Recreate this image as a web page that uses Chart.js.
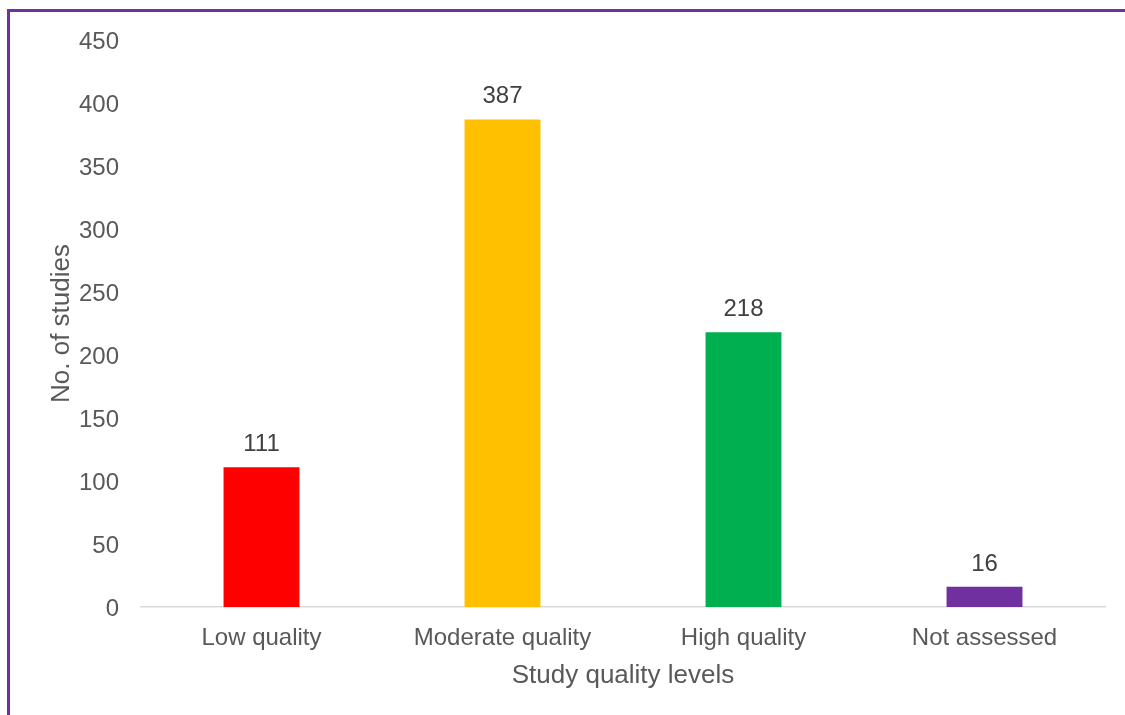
<!DOCTYPE html>
<html>
<head>
<meta charset="utf-8">
<script src="https://cdn.jsdelivr.net/npm/chart.js@4/dist/chart.umd.min.js"></script>
<style>
  html, body { margin: 0; padding: 0; background: #fff; overflow: hidden; }
  #wrap { position: relative; width: 1125px; height: 715px; }
  #frame {
    position: absolute; left: 7px; top: 9px; width: 1300px; height: 900px;
    border-left: 3px solid #7030a0; border-top: 3px solid #7030a0;
    pointer-events: none;
  }
  canvas { position: absolute; left: 0; top: 0; }
</style>
</head>
<body>
<div id="wrap">
  <canvas id="qualityChart" width="1125" height="715"></canvas>
  <div id="frame"></div>
</div>
<script>
const categories = ["Low quality", "Moderate quality", "High quality", "Not assessed"];
const studyCounts = [111, 387, 218, 16];
const barColors = ["#ff0000", "#ffc000", "#00b050", "#7030a0"];
const yTicks = [0, 50, 100, 150, 200, 250, 300, 350, 400, 450];

const font = "'Liberation Sans', Arial, sans-serif";

// write the count above each bar
const valueLabels = {
  id: "valueLabels",
  afterDatasetsDraw(chart) {
    const ctx = chart.ctx;
    const meta = chart.getDatasetMeta(0);
    ctx.save();
    ctx.font = `24px ${font}`;
    ctx.fillStyle = "#404040";
    ctx.textAlign = "center";
    ctx.textBaseline = "alphabetic";
    meta.data.forEach((bar, i) => {
      ctx.fillText(String(studyCounts[i]), bar.x, bar.y - 16);
    });
    ctx.restore();
  },
};

new Chart(document.querySelector("#qualityChart"), {
  type: "bar",
  data: {
    labels: categories,
    datasets: [{
      data: studyCounts,
      backgroundColor: barColors,
      barPercentage: 1,
      categoryPercentage: 0.315,
    }],
  },
  options: {
    responsive: false,
    animation: false,
    layout: { padding: { left: 0, right: 20, top: 40, bottom: 0 } },
    plugins: { legend: { display: false }, tooltip: { enabled: false } },
    scales: {
      x: {
        grid: { display: false },
        border: { display: true, color: "#d9d9d9", width: 1.5 },
        ticks: { color: "#595959", font: { family: font, size: 24 }, padding: 9, maxRotation: 0 },
        title: {
          display: true,
          text: "Study quality levels",
          color: "#595959",
          font: { family: font, size: 26 },
          padding: { top: 0, bottom: 24 },
        },
        afterFit(scale) { scale.height = 108; },
      },
      y: {
        min: 0,
        max: 450,
        grid: { display: false },
        border: { display: false },
        afterBuildTicks(scale) { scale.ticks = yTicks.map((v) => ({ value: v })); },
        ticks: { color: "#595959", font: { family: font, size: 24 }, padding: 14, labelOffset: 2 },
        title: {
          display: true,
          text: "No. of studies",
          color: "#595959",
          font: { family: font, size: 26 },
          padding: { top: 46, bottom: 0 },
        },
        afterFit(scale) { scale.width = 141; },
      },
    },
  },
  plugins: [valueLabels],
});
</script>
</body>
</html>
